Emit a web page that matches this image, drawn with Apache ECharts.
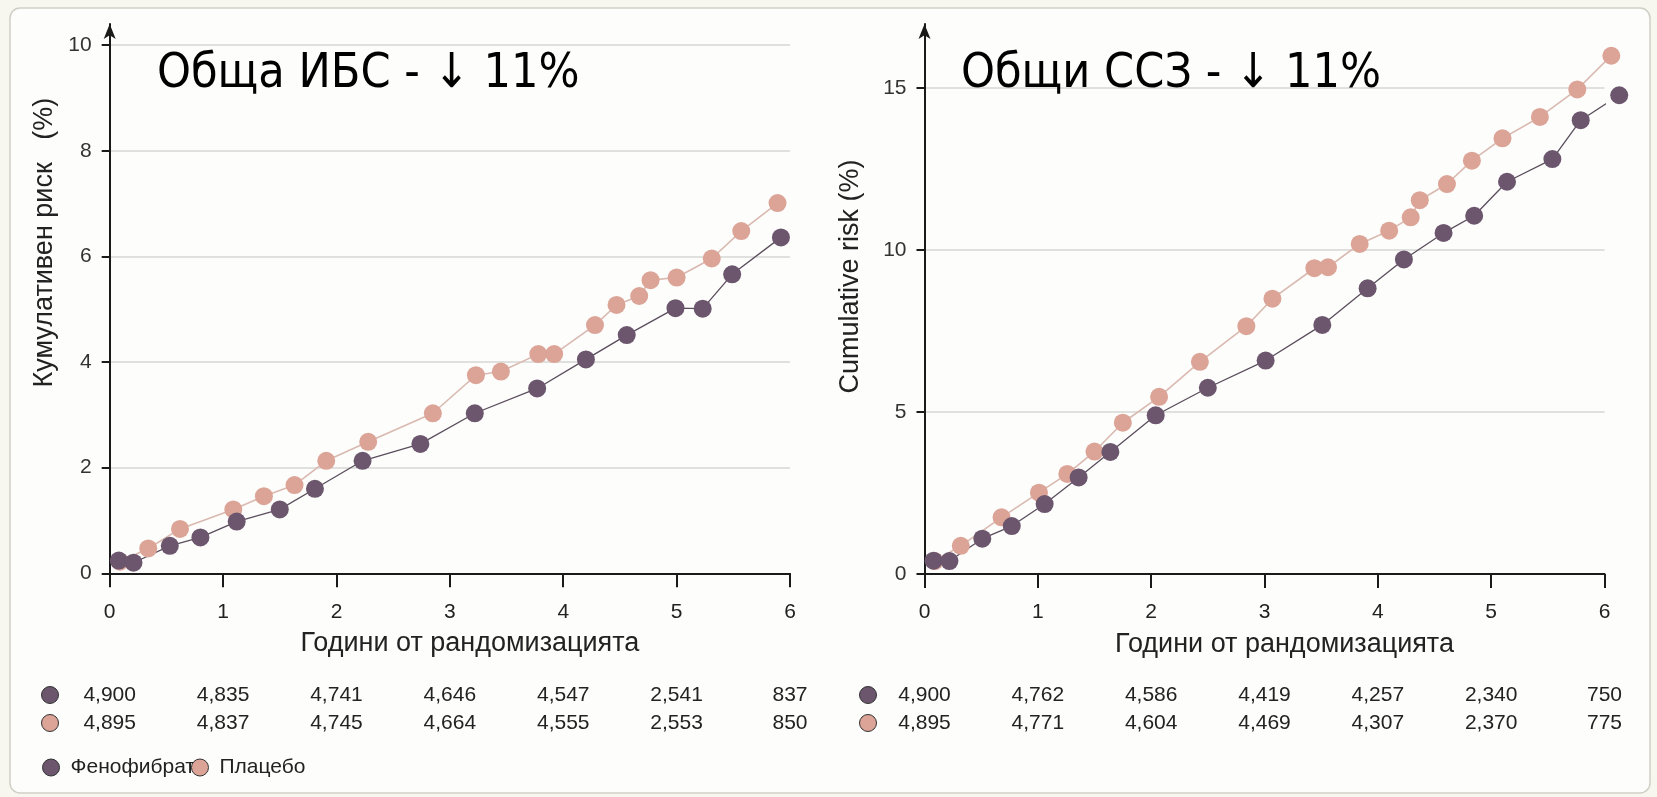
<!DOCTYPE html>
<html>
<head>
<meta charset="utf-8">
<script src="https://cdn.jsdelivr.net/npm/echarts@6/dist/echarts.min.js"></script>
<style>
html,body{margin:0;padding:0;background:#f7f7ef;}
#chart{width:1657px;height:797px;}
</style>
</head>
<body>
<div id="chart"></div>
<script>
// ---- Data ----
const xTicks = [0, 1, 2, 3, 4, 5, 6];
const yTicksIbs = [0, 2, 4, 6, 8, 10];
const yTicksCvd = [0, 5, 10, 15];

const titleIbs = 'Обща ИБС - ↓ 11%';
const titleCvd = 'Общи ССЗ - ↓ 11%';
const yNameIbs = 'Кумулативен риск   (%)';
const yNameCvd = 'Cumulative risk (%)';
const xName = 'Години от рандомизацията';
const seriesNames = ['Фенофибрат', 'Плацебо'];

// Total CHD (left)
const fenoIbsX = [0.08, 0.21, 0.53, 0.80, 1.12, 1.50, 1.81, 2.23, 2.74, 3.22, 3.77, 4.20, 4.56, 4.99, 5.23, 5.49, 5.92];
const fenoIbsY = [0.24, 0.20, 0.52, 0.68, 0.98, 1.21, 1.60, 2.13, 2.45, 3.03, 3.50, 4.05, 4.51, 5.02, 5.01, 5.66, 6.36];
const placIbsX = [0.09, 0.34, 0.62, 1.09, 1.36, 1.63, 1.91, 2.28, 2.85, 3.23, 3.45, 3.78, 3.92, 4.28, 4.47, 4.67, 4.77, 5.00, 5.31, 5.57, 5.89];
const placIbsY = [0.22, 0.47, 0.84, 1.21, 1.46, 1.67, 2.13, 2.49, 3.03, 3.75, 3.82, 4.15, 4.15, 4.70, 5.08, 5.25, 5.55, 5.60, 5.96, 6.48, 7.01];

// Total CVD (right)
const fenoCvdX = [0.08, 0.22, 0.51, 0.77, 1.06, 1.36, 1.64, 2.04, 2.50, 3.01, 3.51, 3.91, 4.23, 4.58, 4.85, 5.14, 5.54, 5.79, 6.13];
const fenoCvdY = [0.41, 0.40, 1.09, 1.48, 2.16, 2.98, 3.77, 4.90, 5.75, 6.59, 7.69, 8.82, 9.71, 10.53, 11.06, 12.11, 12.81, 14.01, 14.78];
const placCvdX = [0.09, 0.32, 0.68, 1.01, 1.26, 1.50, 1.75, 2.07, 2.43, 2.84, 3.07, 3.44, 3.56, 3.84, 4.10, 4.29, 4.37, 4.61, 4.83, 5.10, 5.43, 5.76, 6.06];
const placCvdY = [0.40, 0.87, 1.75, 2.51, 3.09, 3.78, 4.67, 5.47, 6.55, 7.65, 8.50, 9.44, 9.47, 10.19, 10.60, 11.01, 11.54, 12.04, 12.76, 13.45, 14.11, 14.96, 16.00];

// Numbers at risk
const riskFenoIbs = [4900, 4835, 4741, 4646, 4547, 2541, 837];
const riskPlacIbs = [4895, 4837, 4745, 4664, 4555, 2553, 850];
const riskFenoCvd = [4900, 4762, 4586, 4419, 4257, 2340, 750];
const riskPlacCvd = [4895, 4771, 4604, 4469, 4307, 2370, 775];

// ---- Styles ----
const PURPLE = '#6b566d';
const PINK = '#dba497';
const AXIS = '#1a1a1a';
const TXT = '#222';
const FONT = '"Liberation Sans", Arial, sans-serif';

const pairs = (xs, ys) => xs.map((x, i) => [x, ys[i]]);
const fmt = (arr) => (v) => { const i = Math.round(v); return (i >= 0 && i < arr.length) ? arr[i].toLocaleString('en-US') : ''; };

function mainX(gi) {
  return {
    type: 'value', gridIndex: gi, min: 0, max: 6, interval: 1, position: 'bottom',
    name: xName, nameLocation: 'middle', nameGap: 57,
    nameTextStyle: { fontFamily: FONT, fontSize: 27, color: TXT, padding: [0, 0, 0, 40] },
    axisLine: { show: true, onZero: false, lineStyle: { color: AXIS, width: 2 } },
    axisTick: { show: true, length: 14, lineStyle: { color: AXIS, width: 2 } },
    axisLabel: { fontFamily: FONT, fontSize: 21, color: TXT, margin: 28, customValues: xTicks },
    splitLine: { show: false }
  };
}
function riskX(gi, arr, off) {
  return {
    type: 'value', gridIndex: gi, min: 0, max: 6, interval: 1, position: 'bottom', offset: off,
    axisLine: { show: false }, axisTick: { show: false }, splitLine: { show: false },
    axisLabel: { fontFamily: FONT, fontSize: 21, color: TXT, margin: 8, formatter: fmt(arr), customValues: xTicks }
  };
}
function mainY(gi, max, interval, ticks, name, gap, pad) {
  return {
    type: 'value', gridIndex: gi, min: 0, max: max, interval: interval,
    name: name, nameLocation: 'middle', nameGap: gap,
    nameTextStyle: { fontFamily: FONT, fontSize: 27, color: TXT, padding: [0, 0, 0, pad] },
    axisLine: { show: true, onZero: false, symbol: ['none', 'arrow'], symbolSize: [9, 15], lineStyle: { color: AXIS, width: 2 } },
    axisTick: { show: true, length: 8, lineStyle: { color: AXIS, width: 2 }, customValues: ticks },
    axisLabel: { fontFamily: FONT, fontSize: 21, color: '#333', margin: 18, customValues: ticks },
    splitLine: { show: true, lineStyle: { color: '#d6d6d6', width: 1.5 } }
  };
}
function lineSeries(name, xi, yi, data, color, lineColor, lw) {
  return {
    type: 'line', name: name, xAxisIndex: xi, yAxisIndex: yi, data: data,
    symbol: 'circle', symbolSize: 18, showSymbol: true, clip: false,
    itemStyle: { color: color },
    lineStyle: { color: lineColor, width: lw },
    emphasis: { disabled: true }
  };
}

const chart = echarts.init(document.getElementById('chart'), null, { renderer: 'canvas' });
chart.setOption({
  animation: false,
  backgroundColor: 'transparent',
  textStyle: { fontFamily: FONT },
  graphic: [
    { type: 'rect', z: -100, silent: true, shape: { x: 10, y: 8, width: 1640, height: 785, r: 10 },
      style: { fill: '#fdfdfc', stroke: '#cfcfc6', lineWidth: 1.5 } },
    { type: 'circle', shape: { cx: 50, cy: 695, r: 8.5 }, style: { fill: PURPLE, stroke: '#333', lineWidth: 1 } },
    { type: 'circle', shape: { cx: 50, cy: 723, r: 8.5 }, style: { fill: PINK, stroke: '#333', lineWidth: 1 } },
    { type: 'circle', shape: { cx: 868, cy: 695, r: 8.5 }, style: { fill: PURPLE, stroke: '#333', lineWidth: 1 } },
    { type: 'circle', shape: { cx: 868, cy: 723, r: 8.5 }, style: { fill: PINK, stroke: '#333', lineWidth: 1 } }
  ],
  title: [
    { text: titleIbs, left: 157, top: 51, padding: 0,
      textStyle: { fontFamily: '"DejaVu Sans Condensed", "DejaVu Sans", sans-serif', fontSize: 48, fontWeight: 'normal', color: '#000' } },
    { text: titleCvd, left: 961, top: 51, padding: 0,
      textStyle: { fontFamily: '"DejaVu Sans Condensed", "DejaVu Sans", sans-serif', fontSize: 48, fontWeight: 'normal', color: '#000' } }
  ],
  legend: {
    left: 42, top: 757, padding: 0, itemWidth: 17, itemHeight: 17, itemGap: -4, icon: 'circle',
    data: seriesNames,
    itemStyle: { borderColor: '#333', borderWidth: 1 },
    textStyle: { fontFamily: FONT, fontSize: 21, color: TXT, padding: [0, 0, 0, 6] },
    selectedMode: false
  },
  grid: [
    { left: 109.7, top: 24, width: 680.3, bottom: 223.7, containLabel: false },
    { left: 924.5, top: 24, width: 680, bottom: 223, containLabel: false }
  ],
  xAxis: [
    mainX(0), mainX(1),
    riskX(0, riskFenoIbs, 103), riskX(0, riskPlacIbs, 131),
    riskX(1, riskFenoCvd, 103), riskX(1, riskPlacCvd, 131)
  ],
  yAxis: [
    mainY(0, 10.4, 2, yTicksIbs, yNameIbs, 52, 112),
    mainY(1, 16.98, 5, yTicksCvd, yNameCvd, 60, 45)
  ],
  series: [
    lineSeries(seriesNames[1], 0, 0, pairs(placIbsX, placIbsY), PINK, '#d9b9b0', 1.6),
    lineSeries(seriesNames[0], 0, 0, pairs(fenoIbsX, fenoIbsY), PURPLE, '#5a4d5c', 1.3),
    lineSeries(seriesNames[1], 1, 1, pairs(placCvdX, placCvdY), PINK, '#d9b9b0', 1.6),
    lineSeries(seriesNames[0], 1, 1, pairs(fenoCvdX, fenoCvdY), PURPLE, '#5a4d5c', 1.3)
  ]
});
</script>
</body>
</html>
